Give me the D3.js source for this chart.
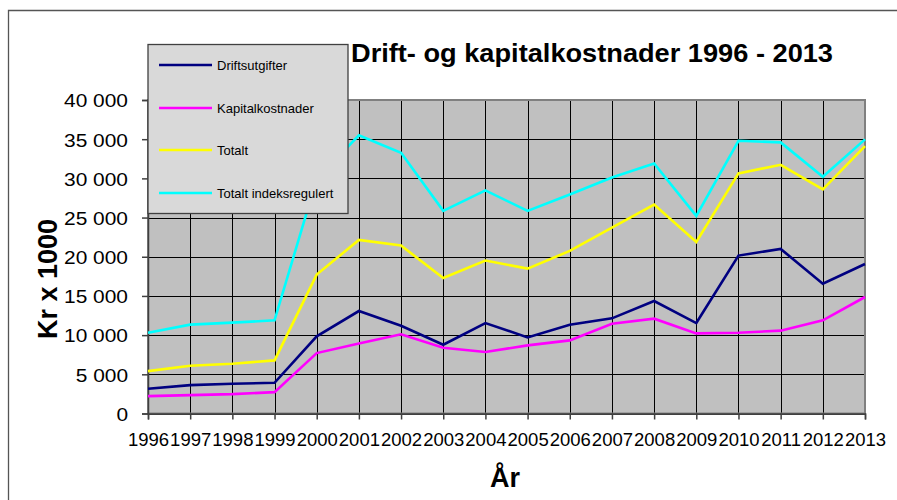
<!DOCTYPE html>
<html>
<head>
<meta charset="utf-8">
<script src="https://cdn.jsdelivr.net/npm/d3@7"></script>
<style>
  html, body { margin: 0; padding: 0; background: #ffffff; }
  svg { display: block; font-family: "Liberation Sans", Arial, sans-serif; }
</style>
</head>
<body>
<svg id="chart" width="897" height="500"></svg>
<script>
const years = [1996,1997,1998,1999,2000,2001,2002,2003,2004,2005,2006,2007,2008,2009,2010,2011,2012,2013];
const driftsutgifter = [3150,3620,3790,3920,9840,13075,11200,8775,11540,9710,11330,12140,14350,11540,20150,21000,16570,19080];
const kapitalkostnader = [2215,2340,2470,2725,7710,8945,10100,8390,7840,8690,9330,11460,12100,10225,10310,10570,11885,14865];
const totalt = [5410,6090,6350,6773,17720,22150,21425,17295,19510,18490,20745,23730,26665,21895,30630,31735,28585,34120];
const totaltIndeksregulert = [10313,11335,11590,11885,29900,35500,33265,25853,28460,25853,27945,30118,31906,25219,34800,34590,30200,34975];
const seriesNames = ["Driftsutgifter","Kapitalkostnader","Totalt","Totalt indeksregulert"];
const seriesColors = ["#000080","#ff00ff","#ffff00","#00ffff"];
const yTicks = [0,5000,10000,15000,20000,25000,30000,35000,40000];
const title = "Drift- og kapitalkostnader 1996 - 2013";
const yTitle = "Kr x 1000";
const xTitle = "År";

const seriesData = [driftsutgifter, kapitalkostnader, totalt, totaltIndeksregulert];

const svg = d3.select("#chart");
const L = 148, R = 865, T = 100, B = 413.5;

const x = d3.scalePoint().domain(years).range([L, R]);
const y = d3.scaleLinear().domain([0, 40000]).range([B, T]);

// outer frame
svg.append("path")
  .attr("d", `M8.5,${500+5} L8.5,10.5 L${897+5},10.5`)
  .attr("fill", "none").attr("stroke", "#555").attr("stroke-width", 1.3);

// plot background
svg.append("rect").attr("x", L).attr("y", T).attr("width", R - L).attr("height", B - T)
  .attr("fill", "#c0c0c0");

// gridlines
svg.append("g").selectAll("line").data(yTicks).join("line")
  .attr("x1", L).attr("x2", R)
  .attr("y1", d => Math.round(y(d)) + 0.5).attr("y2", d => Math.round(y(d)) + 0.5)
  .attr("stroke", "#000").attr("stroke-width", 1);
svg.append("g").selectAll("line").data(years).join("line")
  .attr("y1", T).attr("y2", B)
  .attr("x1", d => Math.round(x(d)) + 0.5).attr("x2", d => Math.round(x(d)) + 0.5)
  .attr("stroke", "#000").attr("stroke-width", 1);

// plot border
svg.append("rect").attr("x", L).attr("y", T).attr("width", R - L).attr("height", B - T)
  .attr("fill", "none").attr("stroke", "#808080").attr("stroke-width", 2);

// y axis
const yAxis = d3.axisLeft(y).tickValues(yTicks).tickSize(6).tickPadding(14)
  .tickFormat(d => d3.format(",")(d).replace(/,/g, " "));
const gy = svg.append("g").attr("transform", `translate(${L},0)`).call(yAxis);
gy.select(".domain").attr("stroke", "#404040").attr("stroke-width", 1.5);
gy.selectAll(".tick line").attr("stroke", "#404040").attr("stroke-width", 1.5);
gy.selectAll(".tick text").attr("font-size", 19).attr("fill", "#000")
  .attr("font-family", "'Liberation Sans', Arial, sans-serif")
  .attr("dy", "0.36em")
  .each(function() {
    const w = this.getComputedTextLength();
    d3.select(this).attr("textLength", w * 1.1).attr("lengthAdjust", "spacingAndGlyphs");
  });

// x axis
const xAxis = d3.axisBottom(x).tickSize(6).tickPadding(10).tickFormat(d => String(d));
const gx = svg.append("g").attr("transform", `translate(0,${B})`).call(xAxis);
gx.select(".domain").attr("stroke", "#404040").attr("stroke-width", 1.5);
gx.selectAll(".tick line").attr("stroke", "#404040").attr("stroke-width", 1.5);
gx.selectAll(".tick text").attr("font-size", 18.5).attr("fill", "#000")
  .attr("font-family", "'Liberation Sans', Arial, sans-serif")
  .attr("y", 32).attr("dy", 0);

// lines
const line = d3.line().x((d, i) => x(years[i])).y(d => y(d));
svg.append("g").selectAll("path").data(seriesData).join("path")
  .attr("d", d => line(d))
  .attr("fill", "none")
  .attr("stroke", (d, i) => seriesColors[i])
  .attr("stroke-width", 2.6)
  .attr("stroke-linejoin", "miter");

// legend
const lg = svg.append("g");
lg.append("rect").attr("x", 148).attr("y", 44.5).attr("width", 200).attr("height", 169)
  .attr("fill", "#d9d9d9").attr("stroke", "#404040").attr("stroke-width", 1.3);
const rowsY = [65, 108, 150, 193];
seriesNames.forEach((name, i) => {
  lg.append("line").attr("x1", 159).attr("x2", 212).attr("y1", rowsY[i]).attr("y2", rowsY[i])
    .attr("stroke", seriesColors[i]).attr("stroke-width", 2.6);
  lg.append("text").attr("x", 217).attr("y", rowsY[i]).attr("dy", "0.35em")
    .attr("font-size", 13).attr("fill", "#000").text(name);
});

// title
svg.append("text").attr("x", 351).attr("y", 62)
  .attr("font-size", 26).attr("font-weight", "bold").attr("fill", "#000")
  .attr("textLength", 482).attr("lengthAdjust", "spacingAndGlyphs")
  .text(title);

// y title
svg.append("text").attr("transform", "translate(57,279) rotate(-90)")
  .attr("text-anchor", "middle")
  .attr("font-size", 27).attr("font-weight", "bold").attr("fill", "#000")
  .text(yTitle);

// x title
svg.append("text").attr("x", 505).attr("y", 487)
  .attr("text-anchor", "middle")
  .attr("font-size", 27).attr("font-weight", "bold").attr("fill", "#000")
  .text(xTitle);
</script>
</body>
</html>
